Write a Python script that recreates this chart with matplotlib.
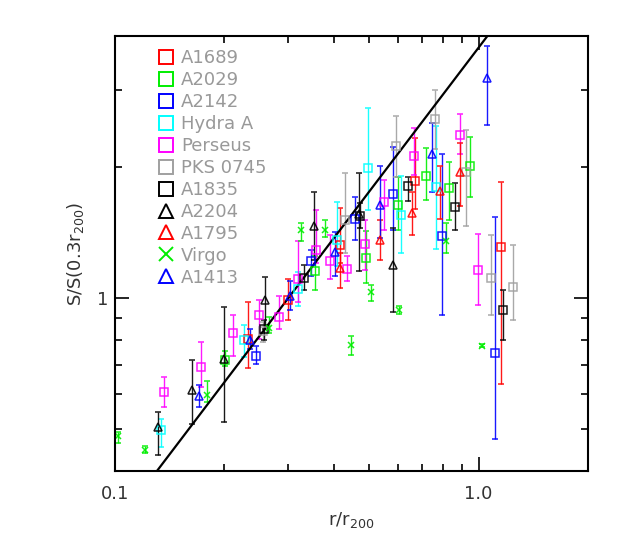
import numpy as np
import matplotlib
matplotlib.use("Agg")
import matplotlib.pyplot as plt
from matplotlib.lines import Line2D
from matplotlib.ticker import FixedLocator, FixedFormatter, NullFormatter

plt.rcParams['font.family'] = ['DejaVu Sans']
plt.rcParams['mathtext.default'] = 'regular'

# each cluster: r/r200, S/S(0.3 r200), upper end of error bar, lower end
a1689_x = [0.232, 0.299, 0.415, 0.669, 1.154]
a1689_y = [0.805, 0.991, 1.326, 1.854, 1.310]
a1689_hi = [0.977, 1.107, 1.608, 2.33, 1.844]
a1689_lo = [0.690, 0.888, 1.20, 1.60, 0.635]

a2029_x = [0.201, 0.354, 0.491, 0.600, 0.715, 0.829, 0.949]
a2029_y = [0.718, 1.155, 1.236, 1.639, 1.910, 1.790, 2.007]
a2029_hi = [0.754, 1.246, 1.422, 1.897, 2.212, 2.050, 2.345]
a2029_lo = [0.697, 1.045, 1.083, 1.436, 1.677, 1.514, 1.707]

a2142_x = [0.245, 0.347, 0.456, 0.582, 0.795, 1.107]
a2142_y = [0.737, 1.214, 1.521, 1.734, 1.385, 0.745]
a2142_hi = [0.777, 1.291, 1.707, 2.223, 2.136, 1.535]
a2142_lo = [0.706, 1.121, 1.362, 1.436, 0.912, 0.474]

hydra_x = [0.134, 0.226, 0.319, 0.409, 0.497, 0.611, 0.765]
hydra_y = [0.496, 0.802, 1.049, 1.362, 1.990, 1.554, 1.800]
hydra_hi = [0.527, 0.865, 1.145, 1.659, 2.734, 1.904, 2.481]
hydra_lo = [0.453, 0.730, 0.960, 1.182, 1.596, 1.269, 1.296]

perseus_x = [0.1366, 0.172, 0.211, 0.249, 0.283, 0.319, 0.358, 0.390,
             0.435, 0.486, 0.548, 0.663, 0.891, 0.995]
perseus_y = [0.609, 0.694, 0.831, 0.915, 0.904, 1.106, 1.291, 1.214,
             1.166, 1.331, 1.659, 2.124, 2.372, 1.157]
perseus_hi = [0.658, 0.790, 0.912, 0.991, 1.012, 1.349, 1.596, 1.398,
              1.251, 1.514, 1.871, 2.459, 2.653, 1.403]
perseus_lo = [0.560, 0.624, 0.737, 0.805, 0.849, 0.981, 1.204, 1.106,
              1.092, 1.162, 1.436, 1.921, 2.14, 0.965]

pks_x = [0.256, 0.430, 0.594, 0.757, 0.921, 1.084, 1.243]
pks_y = [0.838, 1.514, 2.239, 2.579, 1.948, 1.109, 1.060]
pks_hi = [0.88, 1.938, 2.616, 3.010, 2.437, 1.398, 1.326]
pks_lo = [0.79, 1.269, 1.898, 2.20, 1.466, 0.911, 0.891]

a1835_x = [0.257, 0.330, 0.471, 0.640, 0.859, 1.166]
a1835_y = [0.850, 1.111, 1.542, 1.806, 1.619, 0.940]
a1835_hi = [0.891, 1.193, 1.65, 1.897, 1.838, 1.045]
a1835_lo = [0.802, 1.045, 1.45, 1.668, 1.436, 0.799]

a2204_x = [0.131, 0.1627, 0.200, 0.258, 0.353, 0.468, 0.582]
a2204_y = [0.504, 0.615, 0.724, 0.987, 1.466, 1.56, 1.188]
a2204_hi = [0.548, 0.718, 0.953, 1.118, 1.749, 1.938, 1.449]
a2204_lo = [0.435, 0.514, 0.518, 0.849, 1.225, 1.152, 0.927]

a1795_x = [0.416, 0.536, 0.658, 0.781, 0.891]
a1795_y = [1.172, 1.362, 1.568, 1.758, 1.944]
a1795_hi = [1.269, 1.514, 1.751, 2.014, 2.271]
a1795_lo = [1.054, 1.220, 1.398, 1.519, 1.624]

virgo_x = [0.102, 0.121, 0.1786, 0.265, 0.324, 0.378, 0.447, 0.505, 0.604, 0.815, 1.021]
virgo_y = [0.481, 0.446, 0.599, 0.853, 1.436, 1.436, 0.781, 1.030, 0.940, 1.349, 0.777]
virgo_hi = [0.491, 0.456, 0.643, 0.902, 1.487, 1.508, 0.819, 1.073, 0.956, 1.487, 0.785]
virgo_lo = [0.464, 0.439, 0.575, 0.831, 1.349, 1.378, 0.741, 0.982, 0.920, 1.269, 0.770]

a1413_x = [0.170, 0.235, 0.3035, 0.404, 0.535, 0.746, 1.057]
a1413_y = [0.594, 0.802, 1.009, 1.273, 1.639, 2.147, 3.204]
a1413_hi = [0.632, 0.846, 1.092, 1.415, 2.007, 2.526, 3.787]
a1413_lo = [0.560, 0.761, 0.940, 1.121, 1.374, 1.749, 2.502]

# power law S ~ r^1.1 normalised at 0.3 r200
line_x = [0.1, 2.0]
slope = 1.1

series = [
    ("A1689", a1689_x, a1689_y, a1689_hi, a1689_lo, "#ff0000", "s"),
    ("A2029", a2029_x, a2029_y, a2029_hi, a2029_lo, "#00ee00", "s"),
    ("A2142", a2142_x, a2142_y, a2142_hi, a2142_lo, "#0000ff", "s"),
    ("Hydra A", hydra_x, hydra_y, hydra_hi, hydra_lo, "#00ffff", "s"),
    ("Perseus", perseus_x, perseus_y, perseus_hi, perseus_lo, "#ff00ff", "s"),
    ("PKS 0745", pks_x, pks_y, pks_hi, pks_lo, "#a0a0a0", "s"),
    ("A1835", a1835_x, a1835_y, a1835_hi, a1835_lo, "#000000", "s"),
    ("A2204", a2204_x, a2204_y, a2204_hi, a2204_lo, "#000000", "^"),
    ("A1795", a1795_x, a1795_y, a1795_hi, a1795_lo, "#ff0000", "^"),
    ("Virgo", virgo_x, virgo_y, virgo_hi, virgo_lo, "#00ee00", "x"),
    ("A1413", a1413_x, a1413_y, a1413_hi, a1413_lo, "#0000ff", "^"),
]

fig = plt.figure(figsize=(6.23, 5.45), dpi=100)
ax = fig.add_axes([0.1846, 0.1358, 0.7592, 0.7982])
ax.set_xscale('log')
ax.set_yscale('log')

handles = []
for name, x, y, hi, lo, col, mk in series:
    x = np.array(x)
    y = np.array(y)
    yerr = [y - np.array(lo), np.array(hi) - y]
    ms = 4.5 if mk == 'x' else 5.5
    ax.errorbar(x, y, yerr=yerr, fmt=mk, color=col, mfc='none', mec=col,
                ms=ms, mew=1.1, elinewidth=1.0, ecolor=col, capsize=2.5,
                capthick=1.0, alpha=0.9)
    handles.append(Line2D([], [], ls='none', marker=mk, color=col, mfc='none',
                          mec=col, ms=10, mew=1.4, label=name))

lx = np.array(line_x)
ax.plot(lx, (lx / 0.3) ** slope, color='black', lw=1.6)

ax.set_xlim(0.1, 2.0)
ax.set_ylim(0.4, 4.0)

ax.xaxis.set_major_locator(FixedLocator([0.1, 1.0]))
ax.xaxis.set_major_formatter(FixedFormatter(['0.1', '1.0']))
ax.xaxis.set_minor_locator(FixedLocator([0.2, 0.3, 0.4, 0.5, 0.6, 0.7, 0.8, 0.9, 2.0]))
ax.xaxis.set_minor_formatter(NullFormatter())
ax.yaxis.set_major_locator(FixedLocator([1.0]))
ax.yaxis.set_major_formatter(FixedFormatter(['1']))
ax.yaxis.set_minor_locator(FixedLocator([0.5, 0.6, 0.7, 0.8, 0.9, 2.0, 3.0]))
ax.yaxis.set_minor_formatter(NullFormatter())

ax.tick_params(which='both', direction='in', top=True, right=True,
               width=1.2, labelsize=13, labelcolor='#333333')
ax.tick_params(which='major', length=10)
ax.tick_params(which='minor', length=5)
ax.tick_params(axis='x', which='major', pad=10)
ax.tick_params(axis='y', which='major', pad=5)
for s in ax.spines.values():
    s.set_linewidth(1.5)

ax.set_xlabel(r'r/r$_{200}$', fontsize=13, color='#333333', labelpad=5)
ax.set_ylabel(r'S/S(0.3r$_{200}$)', fontsize=13, color='#333333', labelpad=8)

leg = ax.legend(handles=handles, loc='upper left', bbox_to_anchor=(0.092, 0.97),
                frameon=False, fontsize=13, labelspacing=0.22, handlelength=0.8,
                handletextpad=0.45, borderpad=0, borderaxespad=0)
for t in leg.get_texts():
    t.set_color('#999999')

fig.savefig('out.png', dpi=100)
